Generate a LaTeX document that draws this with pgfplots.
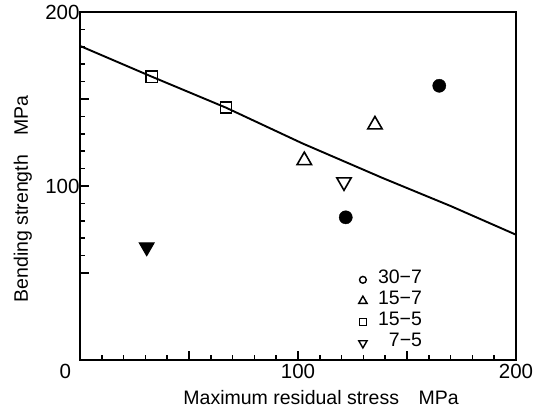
\documentclass[border=0pt]{standalone}
\usepackage{fontspec}
\setmainfont{Liberation Sans}
\usepackage{pgfplots}
\pgfplotsset{compat=1.18}
\newcommand\fs[1]{\fontsize{#1}{#1}\selectfont}
\begin{document}
\begin{tikzpicture}
\useasboundingbox (-80pt,-49pt) rectangle (459pt,360pt);
\begin{axis}[
  scale only axis, width=436pt, height=348pt,
  xmin=0, xmax=200, ymin=0, ymax=200,
  xtick={0,50,...,200},
  xticklabels={\makebox[0pt][r]{0\kern9pt},,100,,200},
  ytick={50,100,150,200},
  yticklabels={,100,,\raisebox{-7pt}{200}},
  minor x tick num=4, minor y tick num=4,
  tick align=inside, xtick pos=bottom, ytick pos=left,
  major tick length=9pt, minor tick length=5pt,
  axis line style={line width=2.4pt},
  every tick/.style={line width=1.6pt, black},
  tick label style={font=\fs{20.5}},
  xticklabel style={yshift=-1pt},
  yticklabel style={xshift=3pt},
  /pgf/number format/assume math mode=true,
  xlabel={Maximum residual stress\quad MPa},
  ylabel={Bending strength\quad MPa},
  label style={font=\fs{19.5}},
  x label style={at={(axis description cs:0.553,-0.109)}, anchor=center},
  y label style={at={(axis description cs:-0.131,0.463)}, anchor=center},
  legend image code/.code={\draw[mark repeat=2,mark phase=2,#1] plot coordinates {(0pt,0pt)(4pt,0pt)(8pt,0pt)};},
  legend style={draw=none, fill=none, font=\fs{19.5},
    at={(axis description cs:0.632,0.267)}, anchor=north west,
    row sep=0pt, column sep=11pt,
    nodes={inner sep=0pt, text height=14pt, text depth=7.1pt}},
  legend cell align=left,
]
% fitted line
\addplot[black, line width=1.9pt, forget plot] coordinates {
  (0,180.5) (33,162.8) (67,145) (102,124.5) (139,104.5) (170,88.5) (200,72)
};
% 15-5 squares
\addplot[only marks, mark=square, mark size=5.6pt, line width=1.6pt, forget plot] coordinates {
  (32.9,162.8) (67,145)
};
% 15-7 triangles
\addplot[only marks, mark=triangle, mark size=8.3pt, line width=1.6pt, forget plot] coordinates {
  (102.9,114.7) (135.3,135.2)
};
% 7-5 open triangle down
\addplot[only marks, mark=triangle, mark size=8.3pt, line width=1.6pt,
  mark options={rotate=180}, forget plot] coordinates {
  (121.1,102.3)
};
% filled triangle down
\addplot[only marks, mark=triangle*, mark size=8.5pt, line width=1pt,
  mark options={rotate=180, fill=black}, forget plot] coordinates {
  (30.6,64.8)
};
% filled circles
\addplot[only marks, mark=*, mark size=6.6pt, mark options={fill=black}, forget plot] coordinates {
  (121.9,82) (164.8,157.6)
};
\addlegendimage{only marks, mark=o, mark size=3.4pt, line width=1.4pt}
\addlegendentry{30\textminus 7}
\addlegendimage{only marks, mark=triangle, mark size=4.8pt, line width=1.4pt}
\addlegendentry{15\textminus 7}
\addlegendimage{only marks, mark=square, mark size=3.3pt, line width=1.4pt}
\addlegendentry{15\textminus 5}
\addlegendimage{only marks, mark=triangle, mark size=4.8pt, line width=1.4pt, mark options={rotate=180}}
\addlegendentry{\phantom{1}7\textminus 5}
\end{axis}
\end{tikzpicture}
\end{document}
